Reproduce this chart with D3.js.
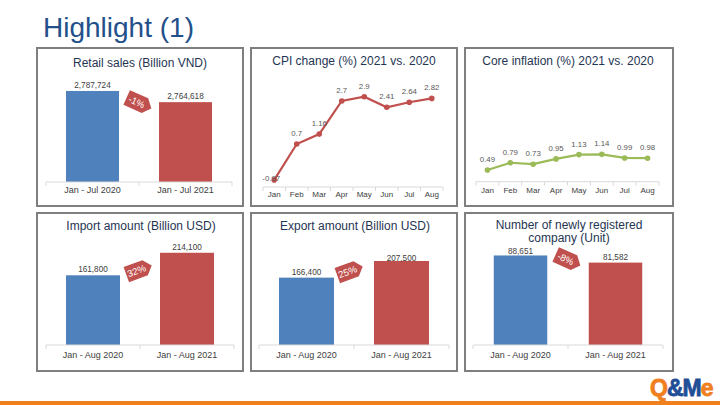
<!DOCTYPE html>
<html>
<head>
<meta charset="utf-8">
<script src="https://cdn.jsdelivr.net/npm/d3@7/dist/d3.min.js"></script>
<style>
  html, body { margin: 0; padding: 0; background: #ffffff; }
  svg { display: block; font-family: "Liberation Sans", Arial, sans-serif; }
</style>
</head>
<body>
<svg id="chart" width="720" height="405"></svg>
<script>
// ---------- data ----------
const pageTitle = "Highlight (1)";

const retailTitle = ["Retail sales (Billion VND)"];
const retailCats = ["Jan - Jul 2020", "Jan - Jul 2021"];
const retailVals = [2787724, 2764618];
const retailChange = "-1%";

const months = ["Jan", "Feb", "Mar", "Apr", "May", "Jun", "Jul", "Aug"];
const cpiTitle = ["CPI change (%) 2021 vs. 2020"];
const cpiVals = [-0.97, 0.7, 1.16, 2.7, 2.9, 2.41, 2.64, 2.82];
const coreTitle = ["Core inflation (%) 2021 vs. 2020"];
const coreVals = [0.49, 0.79, 0.73, 0.95, 1.13, 1.14, 0.99, 0.98];

const tradeCats = ["Jan - Aug 2020", "Jan - Aug 2021"];
const importTitle = ["Import amount (Billion USD)"];
const importVals = [161800, 214100];
const importChange = "32%";
const exportTitle = ["Export amount (Billion USD)"];
const exportVals = [166400, 207500];
const exportChange = "25%";
const companyTitle = ["Number of newly registered", "company (Unit)"];
const companyVals = [88651, 81582];
const companyChange = "-8%";

// ---------- styles ----------
const BLUE = "#4f81bd", RED = "#c0504d", GREEN = "#9bbb59";
const TITLE_COLOR = "#1f3552";
const AXIS_COLOR = "#d9d9d9";
const LABEL_COLOR = "#404040";
const FONT = "'Liberation Sans', Arial, sans-serif";

const svg = d3.select("#chart");

// page title
svg.append("text").attr("x", 43).attr("y", 36.5)
  .attr("font-size", 28).attr("fill", "#23508a").text(pageTitle);

// bottom orange rule
svg.append("rect").attr("x", 0).attr("y", 401).attr("width", 720).attr("height", 4).attr("fill", "#f07f1e");

// logo
const logo = svg.append("text").attr("x", 650).attr("y", 396)
  .attr("font-size", 23).attr("font-weight", "bold").attr("letter-spacing", -1)
  .attr("stroke-width", 0.8);
logo.append("tspan").attr("fill", "#f07f1e").attr("stroke", "#f07f1e").text("Q");
logo.append("tspan").attr("fill", "#1f4e96").attr("stroke", "#1f4e96").text("&M");
logo.append("tspan").attr("fill", "#f07f1e").attr("stroke", "#f07f1e").text("e");

// ---------- helpers ----------
function panelBox(x, y, w, h) {
  svg.append("rect").attr("x", x).attr("y", y).attr("width", w).attr("height", h)
    .attr("fill", "#fff").attr("stroke", "#7f7f7f").attr("stroke-width", 2);
}
function panelTitle(lines, cx, y) {
  const t = svg.append("text").attr("text-anchor", "middle").attr("font-size", 12).attr("fill", TITLE_COLOR);
  lines.forEach((l, i) => t.append("tspan").attr("x", cx).attr("y", y + i * 13.3).text(l));
}
function categoryAxis(x, axisY, labelDy, fontSize) {
  const g = svg.append("g").attr("transform", `translate(0,${axisY})`)
    .call(d3.axisBottom(x).tickSize(0).tickSizeOuter(0));
  g.select(".domain").remove();
  g.selectAll(".tick text").attr("y", labelDy).attr("dy", 0)
    .attr("font-size", fontSize).attr("font-family", FONT).attr("fill", LABEL_COLOR);
  const [r0, r1] = x.range();
  g.append("line").attr("x1", r0).attr("x2", r1).attr("stroke", AXIS_COLOR).attr("stroke-width", 1);
  const bounds = x.domain().map(d => x(d)).concat([r1]);
  g.selectAll("line.bt").data(bounds).join("line").attr("class", "bt")
    .attr("x1", d => d).attr("x2", d => d).attr("y1", 0).attr("y2", 4)
    .attr("stroke", AXIS_COLOR);
}
function badge(cx, cy, label) {
  const neg = label.trim().startsWith("-");
  const g = svg.append("g").attr("transform", `translate(${cx},${cy}) rotate(${neg ? 24 : -20})`);
  const w = 27, h = 16, p = 7;
  g.append("path")
    .attr("d", `M${-w / 2},${-h / 2} L${w / 2 - p},${-h / 2} L${w / 2},0 L${w / 2 - p},${h / 2} L${-w / 2},${h / 2} Z`)
    .attr("fill", RED);
  g.append("text").attr("x", -2.5).attr("y", 3.3).attr("text-anchor", "middle")
    .attr("font-size", 9.5).attr("fill", "#fff").text(label);
}
function barPanel(cfg) {
  panelBox(cfg.box[0], cfg.box[1], cfg.box[2], cfg.box[3]);
  panelTitle(cfg.title, cfg.titleX, cfg.titleY);
  const x = d3.scaleBand().domain(cfg.cats).range(cfg.xr).padding(0);
  const y = d3.scaleLinear().domain(cfg.dom).range([cfg.base, cfg.top]);
  const bw = cfg.barW;
  const data = cfg.cats.map((c, i) => ({ c, v: cfg.vals[i], col: i === 0 ? BLUE : RED }));
  svg.append("g").selectAll("rect").data(data).join("rect")
    .attr("x", d => x(d.c) + (x.bandwidth() - bw) / 2)
    .attr("width", bw)
    .attr("y", d => y(d.v))
    .attr("height", d => cfg.base - y(d.v))
    .attr("fill", d => d.col);
  svg.append("g").selectAll("text").data(data).join("text")
    .attr("x", d => x(d.c) + x.bandwidth() / 2)
    .attr("y", d => Math.max(y(d.v) - 3, cfg.labelMinY))
    .attr("text-anchor", "middle").attr("font-size", 8.2).attr("fill", LABEL_COLOR)
    .text(d => d3.format(",")(d.v));
  categoryAxis(x, cfg.base, cfg.labelDy, 9);
  badge(cfg.badge[0], cfg.badge[1], cfg.change);
}
function linePanel(cfg) {
  panelBox(cfg.box[0], cfg.box[1], cfg.box[2], cfg.box[3]);
  panelTitle(cfg.title, cfg.titleX, cfg.titleY);
  const x = d3.scaleBand().domain(months).range(cfg.xr).padding(0);
  const y = d3.scaleLinear().domain(cfg.dom).range([cfg.base, cfg.top]);
  const cx = d => x(d) + x.bandwidth() / 2;
  categoryAxis(x, cfg.base, cfg.labelDy, 8);
  const pts = months.map((m, i) => ({ m, v: cfg.vals[i] }));
  svg.append("path").datum(pts)
    .attr("d", d3.line().x(d => cx(d.m)).y(d => y(d.v)))
    .attr("fill", "none").attr("stroke", cfg.color).attr("stroke-width", 2.2);
  svg.append("g").selectAll("circle").data(pts).join("circle")
    .attr("cx", d => cx(d.m)).attr("cy", d => y(d.v)).attr("r", 2.8).attr("fill", cfg.color);
  svg.append("g").selectAll("text").data(pts).join("text")
    .attr("x", d => cx(d.m) - (d.v < 0 ? 3 : 0))
    .attr("y", d => d.v < 0 ? y(d.v) + 1.5 : y(d.v) - 8)
    .attr("text-anchor", "middle").attr("font-size", 7.8).attr("fill", "#595959")
    .text(d => String(d.v));
}

// ---------- panels ----------
barPanel({ box: [37, 48, 206, 158], title: retailTitle, titleX: 140, titleY: 67,
  cats: retailCats, vals: retailVals, dom: [2600000, 2800000], xr: [46, 232], base: 182, top: 85,
  barW: 53, labelMinY: 0, labelDy: 11, badge: [139, 103], change: retailChange });

linePanel({ box: [251, 48, 206, 158], title: cpiTitle, titleX: 354, titleY: 65,
  vals: cpiVals, color: RED, dom: [-1.3, 3.5], xr: [263, 443], base: 187, top: 83.8, labelDy: 9.7 });

linePanel({ box: [465, 48, 208, 158], title: coreTitle, titleX: 568, titleY: 65,
  vals: coreVals, color: GREEN, dom: [0, 4], xr: [476, 659], base: 181.7, top: 85.7, labelDy: 11.6 });

barPanel({ box: [37, 213, 206, 158], title: importTitle, titleX: 141, titleY: 230,
  cats: tradeCats, vals: importVals, dom: [0, 250000], xr: [46, 234], base: 345, top: 237.3,
  barW: 54, labelMinY: 0, labelDy: 12.5, badge: [139, 270], change: importChange });

barPanel({ box: [251, 213, 206, 158], title: exportTitle, titleX: 355, titleY: 230,
  cats: tradeCats, vals: exportVals, dom: [0, 250000], xr: [259, 449], base: 345, top: 243.8,
  barW: 55, labelMinY: 261, labelDy: 12.5, badge: [350, 271], change: exportChange });

barPanel({ box: [465, 213, 208, 158], title: companyTitle, titleX: 569, titleY: 229,
  cats: tradeCats, vals: companyVals, dom: [0, 100000], xr: [473, 663], base: 345, top: 244,
  barW: 53.5, labelMinY: 254.3, labelDy: 12.5, badge: [568, 260], change: companyChange });
</script>
</body>
</html>
